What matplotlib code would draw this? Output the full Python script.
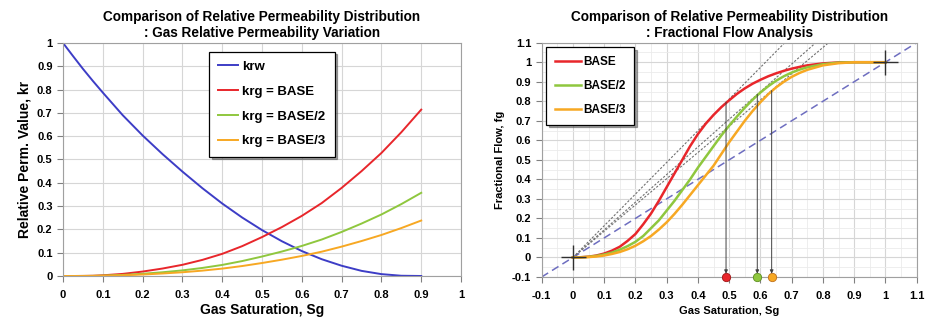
import matplotlib
matplotlib.use("Agg")
import matplotlib.pyplot as plt
from matplotlib.ticker import MultipleLocator, FormatStrFormatter

plt.rcParams['font.family'] = ['Liberation Sans', 'DejaVu Sans']
plt.rcParams['font.weight'] = 'bold'

# ---------- data: left chart ----------
sg_left = [0.0, 0.025, 0.05, 0.075, 0.1, 0.15, 0.2, 0.25, 0.3, 0.35, 0.4, 0.45, 0.5, 0.55, 0.6, 0.65, 0.7, 0.75, 0.8, 0.85, 0.9]
krw = [1.0, 0.944, 0.889, 0.837, 0.787, 0.69, 0.603, 0.523, 0.448, 0.377, 0.311, 0.251, 0.197, 0.149, 0.107, 0.072, 0.044, 0.022, 0.008, 0.001, 0.0]
krg_base = [0.0, 0.0, 0.0003, 0.001, 0.003, 0.009, 0.019, 0.032, 0.048, 0.069, 0.095, 0.128, 0.167, 0.21, 0.258, 0.313, 0.378, 0.45, 0.528, 0.617, 0.714]
krg_base2 = [0.0, 0.0, 0.0002, 0.0005, 0.0015, 0.0045, 0.0095, 0.016, 0.024, 0.0345, 0.0475, 0.064, 0.0835, 0.105, 0.129, 0.1565, 0.189, 0.225, 0.264, 0.3085, 0.357]
krg_base3 = [0.0, 0.0, 0.0001, 0.0003, 0.001, 0.003, 0.0063, 0.0107, 0.016, 0.023, 0.0317, 0.0427, 0.0557, 0.07, 0.086, 0.1043, 0.126, 0.15, 0.176, 0.2057, 0.238]
left_labels = ['krw', 'krg = BASE', 'krg = BASE/2', 'krg = BASE/3']

# ---------- data: right chart ----------
sg_right = [0.0, 0.025, 0.05, 0.075, 0.1, 0.125, 0.15, 0.175, 0.2, 0.225, 0.25, 0.275, 0.3, 0.325,
            0.35, 0.375, 0.4, 0.425, 0.45, 0.475, 0.5, 0.525, 0.55, 0.575, 0.6, 0.625, 0.65, 0.675,
            0.7, 0.725, 0.75, 0.8, 0.85, 0.9, 0.95, 1.0]
fg_base = [0.0, 0.001, 0.004, 0.01, 0.02, 0.035, 0.055, 0.085, 0.12, 0.17, 0.225, 0.29, 0.36, 0.43,
           0.5, 0.57, 0.632, 0.685, 0.73, 0.77, 0.805, 0.838, 0.866, 0.89, 0.91, 0.928, 0.943, 0.956,
           0.967, 0.976, 0.984, 0.994, 0.999, 1.0, 1.0, 1.0]
fg_base2 = [0.0, 0.001, 0.003, 0.008, 0.015, 0.025, 0.04, 0.058, 0.08, 0.11, 0.15, 0.19, 0.24, 0.29,
            0.345, 0.4, 0.46, 0.515, 0.57, 0.625, 0.675, 0.722, 0.767, 0.808, 0.845, 0.877, 0.905, 0.928,
            0.947, 0.962, 0.974, 0.99, 0.998, 1.0, 1.0, 1.0]
fg_base3 = [0.0, 0.0005, 0.002, 0.005, 0.01, 0.018, 0.028, 0.042, 0.06, 0.083, 0.11, 0.143, 0.18, 0.223,
            0.27, 0.32, 0.37, 0.42, 0.47, 0.53, 0.59, 0.645, 0.7, 0.75, 0.795, 0.836, 0.871, 0.9,
            0.925, 0.945, 0.961, 0.984, 0.995, 1.0, 1.0, 1.0]
right_labels = ['BASE', 'BASE/2', 'BASE/3']
front_sg = [0.49, 0.59, 0.636]
front_fg = [0.795, 0.835, 0.855]
end_points_x = [0, 1]
end_points_y = [0, 1]

C_BLUE = '#3d3dc6'
C_RED = '#e8262b'
C_GREEN = '#8fc73e'
C_ORANGE = '#f7a823'
EDGE = ['#a01515', '#5e8f20', '#c0701a']
GRID = '#d6d6d6'
GRID_MINOR = '#ebebeb'

fig = plt.figure(figsize=(9.31, 3.22), dpi=100)


def style_axes(ax):
    for s in ax.spines.values():
        s.set_color('#a0a0a0')
        s.set_linewidth(0.8)
    ax.tick_params(axis='both', which='major', direction='out', length=4, color='#808080', labelsize=8)
    ax.tick_params(axis='x', pad=6)
    ax.tick_params(axis='y', pad=3.5)
    for lab in ax.get_xticklabels() + ax.get_yticklabels():
        lab.set_fontweight('bold')
    ax.set_axisbelow(True)


# ---------- left ----------
ax1 = fig.add_axes([0.0677, 0.1429, 0.4275, 0.7236])
ax1.plot(sg_left, krw, color=C_BLUE, lw=1.4, label=left_labels[0])
ax1.plot(sg_left, krg_base, color=C_RED, lw=1.4, label=left_labels[1])
ax1.plot(sg_left, krg_base2, color=C_GREEN, lw=1.4, label=left_labels[2])
ax1.plot(sg_left, krg_base3, color=C_ORANGE, lw=1.4, label=left_labels[3])
ax1.set_xlim(0, 1)
ax1.set_ylim(0, 1)
ax1.xaxis.set_major_locator(MultipleLocator(0.1))
ax1.yaxis.set_major_locator(MultipleLocator(0.1))
ax1.xaxis.set_major_formatter(FormatStrFormatter('%g'))
ax1.yaxis.set_major_formatter(FormatStrFormatter('%g'))
ax1.grid(True, color=GRID, lw=0.8)
style_axes(ax1)
ax1.set_xlabel('Gas Saturation, Sg', fontsize=10, fontweight='bold', labelpad=2)
ax1.set_ylabel('Relative Perm. Value, kr', fontsize=10, fontweight='bold', labelpad=4)
ax1.set_title('Comparison of Relative Permeability Distribution\n: Gas Relative Permeability Variation',
              fontsize=9.8, fontweight='bold', pad=4, linespacing=1.2)
leg1 = ax1.legend(loc='upper left', bbox_to_anchor=(0.367, 0.963), frameon=True, fancybox=False,
                  shadow=True, edgecolor='black', fontsize=9.5, labelspacing=0.95,
                  handlelength=1.5, handletextpad=0.3, borderpad=0.7, borderaxespad=0)
leg1.get_frame().set_linewidth(0.9)
for t in leg1.get_texts():
    t.set_fontweight('bold')

# ---------- right ----------
ax2 = fig.add_axes([0.5818, 0.1398, 0.4028, 0.7276])
ax2.set_xlim(-0.1, 1.1)
ax2.set_ylim(-0.1, 1.1)
ax2.xaxis.set_major_locator(MultipleLocator(0.1))
ax2.yaxis.set_major_locator(MultipleLocator(0.1))
ax2.xaxis.set_minor_locator(MultipleLocator(0.05))
ax2.yaxis.set_minor_locator(MultipleLocator(0.05))
ax2.xaxis.set_major_formatter(FormatStrFormatter('%g'))
ax2.yaxis.set_major_formatter(FormatStrFormatter('%g'))
ax2.grid(True, which='major', color=GRID, lw=0.8)
ax2.grid(True, which='minor', color=GRID_MINOR, lw=0.6)
ax2.tick_params(which='minor', length=0)

# unit diagonal
ax2.plot([-0.1, 1.1], [-0.1, 1.1], color='#6e6ec0', lw=1.1, ls=(0, (5, 3)))

colors = [C_RED, C_GREEN, C_ORANGE]
ytop = 1.1
for xs, ys in zip(front_sg, front_fg):
    slope = ys / xs
    ax2.plot([0, ytop / slope], [0, ytop], color='#707070', lw=0.8, ls=(0, (2, 1.5)))

for fg, c, lab in zip([fg_base, fg_base2, fg_base3], colors, right_labels):
    ax2.plot(sg_right, fg, color=c, lw=1.8, label=lab)

for xs, ys, c, ec in zip(front_sg, front_fg, colors, EDGE):
    ax2.annotate('', xy=(xs, -0.083), xytext=(xs, ys),
                 arrowprops=dict(arrowstyle='-|>', color='#404040', lw=0.7,
                                 mutation_scale=5, shrinkA=0, shrinkB=0))
    ax2.plot([xs], [-0.1], marker='o', ms=6, color=c, mec=ec, mew=0.6, clip_on=False, zorder=5)

ax2.plot(end_points_x, end_points_y, ls='none', marker='+', ms=18, mew=1.0, color='#303030', zorder=6)

style_axes(ax2)
ax2.set_xlabel('Gas Saturation, Sg', fontsize=8, fontweight='bold', labelpad=4)
ax2.set_ylabel('Fractional Flow, fg', fontsize=8, fontweight='bold', labelpad=5)
ax2.set_title('Comparison of Relative Permeability Distribution\n: Fractional Flow Analysis',
              fontsize=9.8, fontweight='bold', pad=4, linespacing=1.2)
leg2 = ax2.legend(loc='upper left', bbox_to_anchor=(0.011, 0.98), frameon=True, fancybox=False,
                  shadow=True, edgecolor='black', fontsize=8.5, labelspacing=1.0,
                  handlelength=2.2, handletextpad=0.2, borderpad=0.75, borderaxespad=0)
leg2.get_frame().set_linewidth(0.9)
for t in leg2.get_texts():
    t.set_fontweight('bold')

fig.savefig('out.png', dpi=100)
